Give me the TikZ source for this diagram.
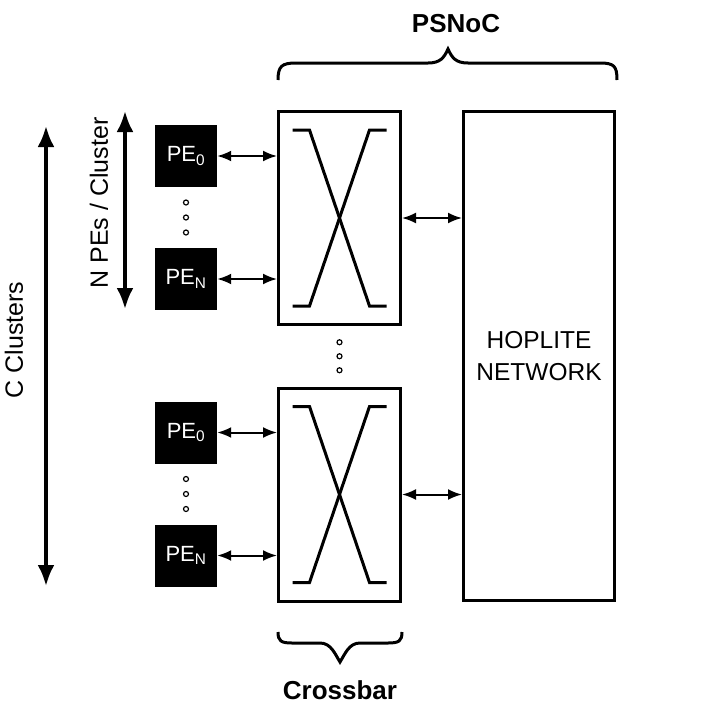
\documentclass[tikz,border=0pt]{standalone}
\usepackage{fontspec}
\setmainfont{Liberation Sans}
\usetikzlibrary{arrows.meta,calc}
\tikzset{>={Latex[length=14pt,width=11pt]}}
\tikzset{
    pe/.style={fill=black, text=white, minimum size=62pt, inner sep=0pt,
        font=\fontsize{22}{26}\selectfont},
    xbar/.style={draw, line width=3pt, minimum width=122pt, minimum height=213pt},
    link/.style={<->, line width=2pt},
    span/.style={<->, line width=3.5pt, >={Latex[length=21pt,width=17pt]}},
    lbl/.style={font=\fontsize{25}{30}\selectfont},
    ttl/.style={font=\bfseries\fontsize{26}{31}\selectfont},
}

\begin{document}
\begin{tikzpicture}[x=1pt, y=-1pt]
    \useasboundingbox(0, 0) rectangle (716, 718);
    \node[draw, line width=3pt, minimum width=151pt, minimum height=489pt, align=center,
        font=\fontsize{24.5}{32}\selectfont](hop) at (539, 356){HOPLITE\\NETWORK};
    \foreach \c/\y in {a/218, b/494.5}{
        \node[xbar](x\c) at (339.5, \y){};
        \begin{scope}[shift={(x\c.center)}, line width=3pt]
            \draw(-47, -88)--(-30, -88)--(30, 88)--(47, 88);
            \draw(47, -88)--(30, -88)--(-30, 88)--(-47, 88);
        \end{scope}
        \node[pe](pe0\c) at (186, \y-62){PE\textsubscript{0}};
        \node[pe](pen\c) at (186, \y+61){PE\textsubscript{N}};
        \foreach \d in {-15, 0, 15}
            \draw[line width=1.2pt]($(pe0\c)!.5!(pen\c)+(0, \d)$)circle(2.5pt);
        \draw[link](pe0\c)--(pe0\c -| x\c.west);
        \draw[link](pen\c)--(pen\c -| x\c.west);
        \draw[link](x\c.east)--(x\c.east -| hop.west);
    }
    \foreach \d in {-14, 0, 14}
        \draw[line width=1.2pt]($(xa.south)!.5!(xb.north)+(0, \d)$)circle(2.5pt);
    % braces
    \draw[line width=3pt](278, 80)..controls(278, 66)and(282, 63)..(296, 63)--(428, 63)
        ..controls(440, 63)and(444, 58)..(448, 49)..controls(452, 58)and(456, 63)..(468, 63)
        --(600, 63)..controls(614, 63)and(617, 66)..(617, 80);
    \node[ttl](psnoc) at (456, 24){PSNoC};
    \draw[line width=3pt](278, 632)..controls(278, 641)and(281, 643)..(292, 643)--(320, 643)
        ..controls(331, 643)and(335, 654)..(340, 662)..controls(345, 654)and(349, 643)..(360, 643)
        --(388, 643)..controls(399, 643)and(402, 641)..(402, 632);
    \node[ttl](xlab) at (340, 690){Crossbar};
    % spans
    \coordinate(ctop) at (46, 126);
    \coordinate(cbot) at (46, 586);
    \draw[span](ctop)--(cbot);
    \node[lbl, rotate=90](clab) at (14, 340){C Clusters};
    \coordinate(ntop) at (125, 111);
    \coordinate(nbot) at (125, 309);
    \draw[span](ntop)--(nbot);
    \node[lbl, rotate=90](nlab) at (99, 203){N PEs / Cluster};
\end{tikzpicture}
\end{document}
